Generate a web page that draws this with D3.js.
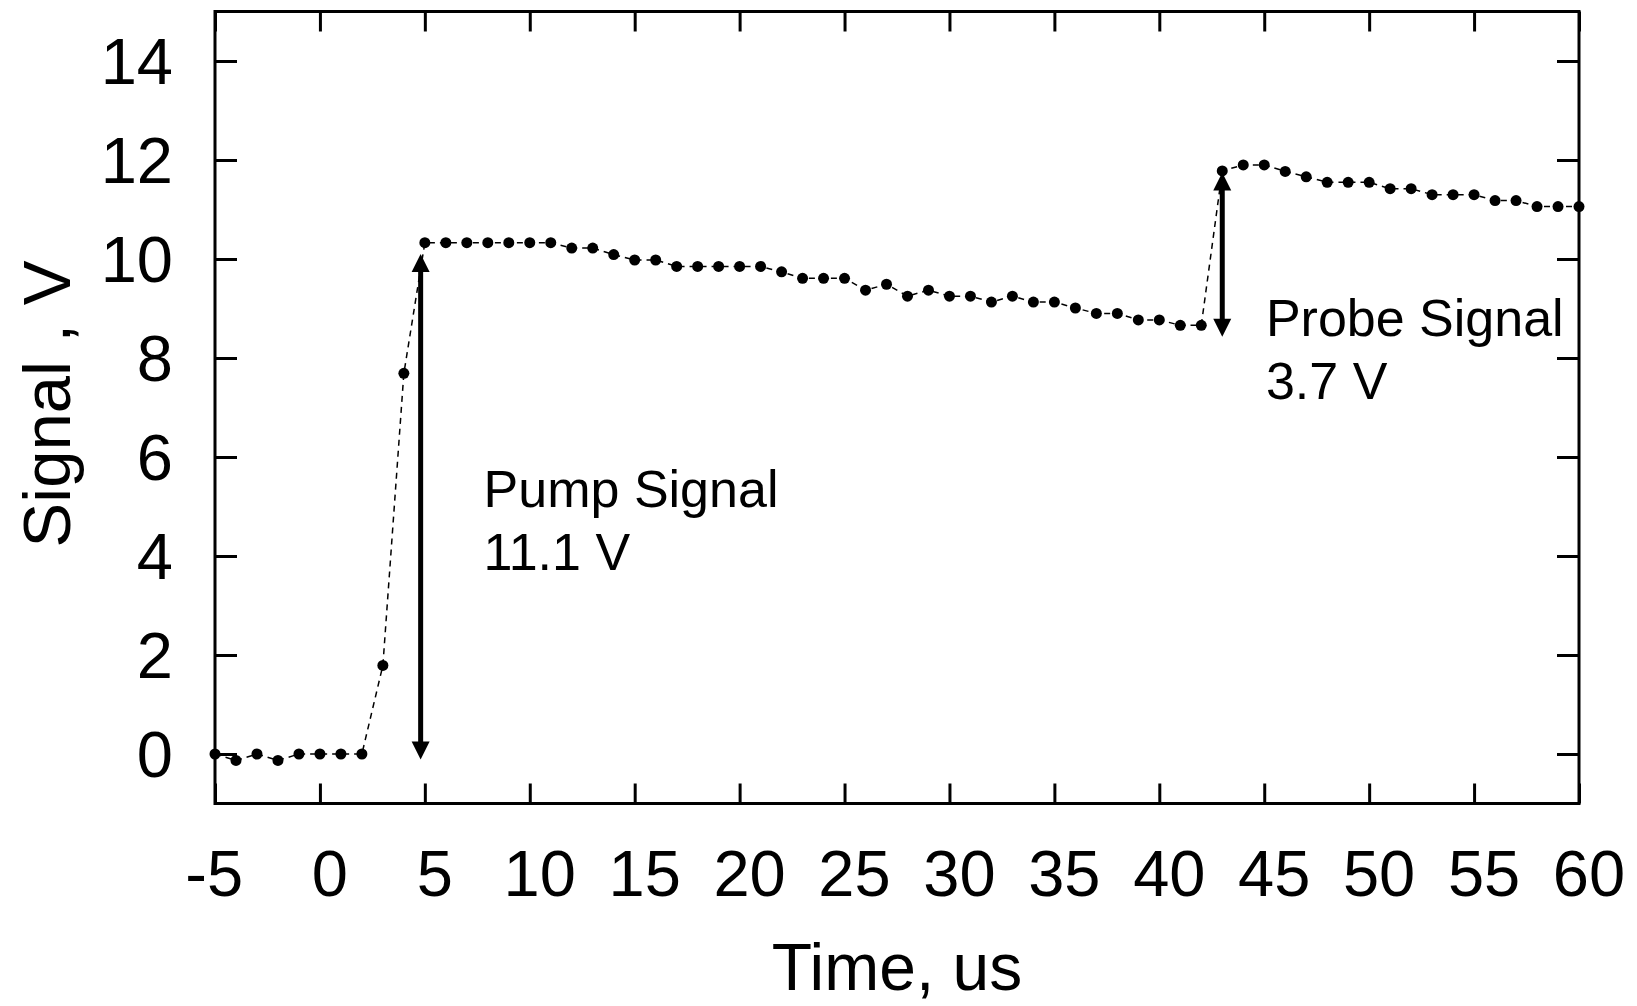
<!DOCTYPE html>
<html><head><meta charset="utf-8">
<script src="https://cdn.jsdelivr.net/npm/d3@7"></script>
<style>
body{margin:0;background:#fff}
text{font-family:"Liberation Sans",Arial,sans-serif;fill:#000}
</style>
</head><body>
<svg id="c" width="1637" height="1006"></svg>
<script>
const timeUs = [-5,-4,-3,-2,-1,0,1,2,3,4,5,6,7,8,9,10,11,12,13,14,15,16,17,18,19,20,21,22,23,24,25,26,27,28,29,30,31,32,33,34,35,36,37,38,39,40,41,42,43,44,45,46,47,48,49,50,51,52,53,54,55,56,57,58,59,60];
const signalV = [0,-0.13,0,-0.13,0,0,0,0,1.79,7.69,
  10.33,10.33,10.33,10.33,10.33,10.33,10.33,10.22,10.22,10.09,
  9.98,9.98,9.85,9.85,9.85,9.85,9.85,9.74,9.61,9.61,
  9.61,9.37,9.49,9.25,9.37,9.25,9.25,9.13,9.25,9.13,
  9.13,9.01,8.90,8.90,8.77,8.77,8.66,8.66,11.78,11.90,
  11.90,11.77,11.66,11.55,11.55,11.55,11.42,11.42,11.30,11.30,
  11.30,11.18,11.18,11.06,11.06,11.06];
const xTicks = [-5,0,5,10,15,20,25,30,35,40,45,50,55,60];
const xTickLabels = ["-5","0","5","10","15","20","25","30","35","40","45","50","55","60"];
const yTicks = [0,2,4,6,8,10,12,14];
const yTickLabels = ["0","2","4","6","8","10","12","14"];
const xTitle = "Time, us";
const yTitle = "Signal , V";
// arrows: x, from, to
const arrowX = [4.8, 43.0];
const arrowFrom = [-0.11, 8.43];
const arrowTo = [10.1, 11.75];
// annotation text, first-line anchor in data units
const noteLines = [["Pump Signal","11.1 V"],["Probe Signal","3.7 V"]];
const noteX = [7.8, 45.08];
const noteY = [5.0, 8.44];

const svg = d3.select("#c");
const L=215, R=1579, T=11.5, B=803.5;
const x = d3.scaleLinear().domain([-5,60]).range([L,R]);
const y = d3.scaleLinear().domain([-1,15]).range([B,T]);

function styleAxis(g){
  g.select(".domain").remove();
  g.selectAll(".tick line").attr("stroke","#000").attr("stroke-width",3);
}
svg.append("g").attr("transform",`translate(0,${B})`)
  .call(d3.axisBottom(x).tickValues(xTicks).tickSize(-20).tickFormat(""))
  .call(styleAxis);
svg.append("g").attr("transform",`translate(0,${T})`)
  .call(d3.axisTop(x).tickValues(xTicks).tickSize(-20).tickFormat(""))
  .call(styleAxis);
svg.append("g").attr("transform",`translate(${L},0)`)
  .call(d3.axisLeft(y).tickValues(yTicks).tickSize(-22).tickFormat(""))
  .call(styleAxis);
svg.append("g").attr("transform",`translate(${R},0)`)
  .call(d3.axisRight(y).tickValues(yTicks).tickSize(-22).tickFormat(""))
  .call(styleAxis);

svg.append("rect").attr("x",L).attr("y",T).attr("width",R-L).attr("height",B-T)
  .attr("fill","none").attr("stroke","#000").attr("stroke-width",3);

const fs = 65;
svg.append("g").selectAll("text").data(xTicks).join("text")
  .attr("x",(d,i)=>{
    const nd = xTickLabels[i].replace("-","").length;
    return x(d) + 10 + nd*0.556*fs/2;
  })
  .attr("y",896).attr("text-anchor","end").attr("font-size",fs)
  .text((d,i)=>xTickLabels[i]);
svg.append("g").selectAll("text").data(yTicks).join("text")
  .attr("x",173).attr("y",d=>y(d)+23).attr("text-anchor","end").attr("font-size",fs)
  .text((d,i)=>yTickLabels[i]);

svg.append("text").attr("x",(L+R)/2).attr("y",990).attr("text-anchor","middle")
  .attr("font-size",66).text(xTitle);
svg.append("text").attr("transform",`translate(70,404) rotate(-90)`)
  .attr("text-anchor","middle").attr("font-size",67).text(yTitle);

const pts = timeUs.map((t,i)=>[t,signalV[i]]);
svg.append("path").datum(pts)
  .attr("d",d3.line().x(d=>x(d[0])).y(d=>y(d[1])))
  .attr("fill","none").attr("stroke","#000").attr("stroke-width",1.5)
  .attr("stroke-dasharray","6,5");
svg.append("g").selectAll("circle").data(pts).join("circle")
  .attr("cx",d=>x(d[0])).attr("cy",d=>y(d[1])).attr("r",5.5).attr("fill","#000");

const headL = 18, headW = 9;
arrowX.forEach((ax,i)=>{
  const px = x(ax), y1 = y(arrowFrom[i]), y2 = y(arrowTo[i]);
  const g = svg.append("g");
  g.append("line").attr("x1",px).attr("x2",px).attr("y1",y1-headL+2).attr("y2",y2+headL-2)
    .attr("stroke","#000").attr("stroke-width",5);
  g.append("path").attr("d",`M${px},${y2}L${px-headW},${y2+headL}L${px+headW},${y2+headL}Z`).attr("fill","#000");
  g.append("path").attr("d",`M${px},${y1}L${px-headW},${y1-headL}L${px+headW},${y1-headL}Z`).attr("fill","#000");
});

noteLines.forEach((lines,i)=>{
  const t = svg.append("text").attr("x",x(noteX[i])).attr("y",y(noteY[i])).attr("font-size",52);
  lines.forEach((ln,j)=>{
    t.append("tspan").attr("x",x(noteX[i])).attr("dy",j===0?0:63).text(ln);
  });
});
</script>
</body></html>
